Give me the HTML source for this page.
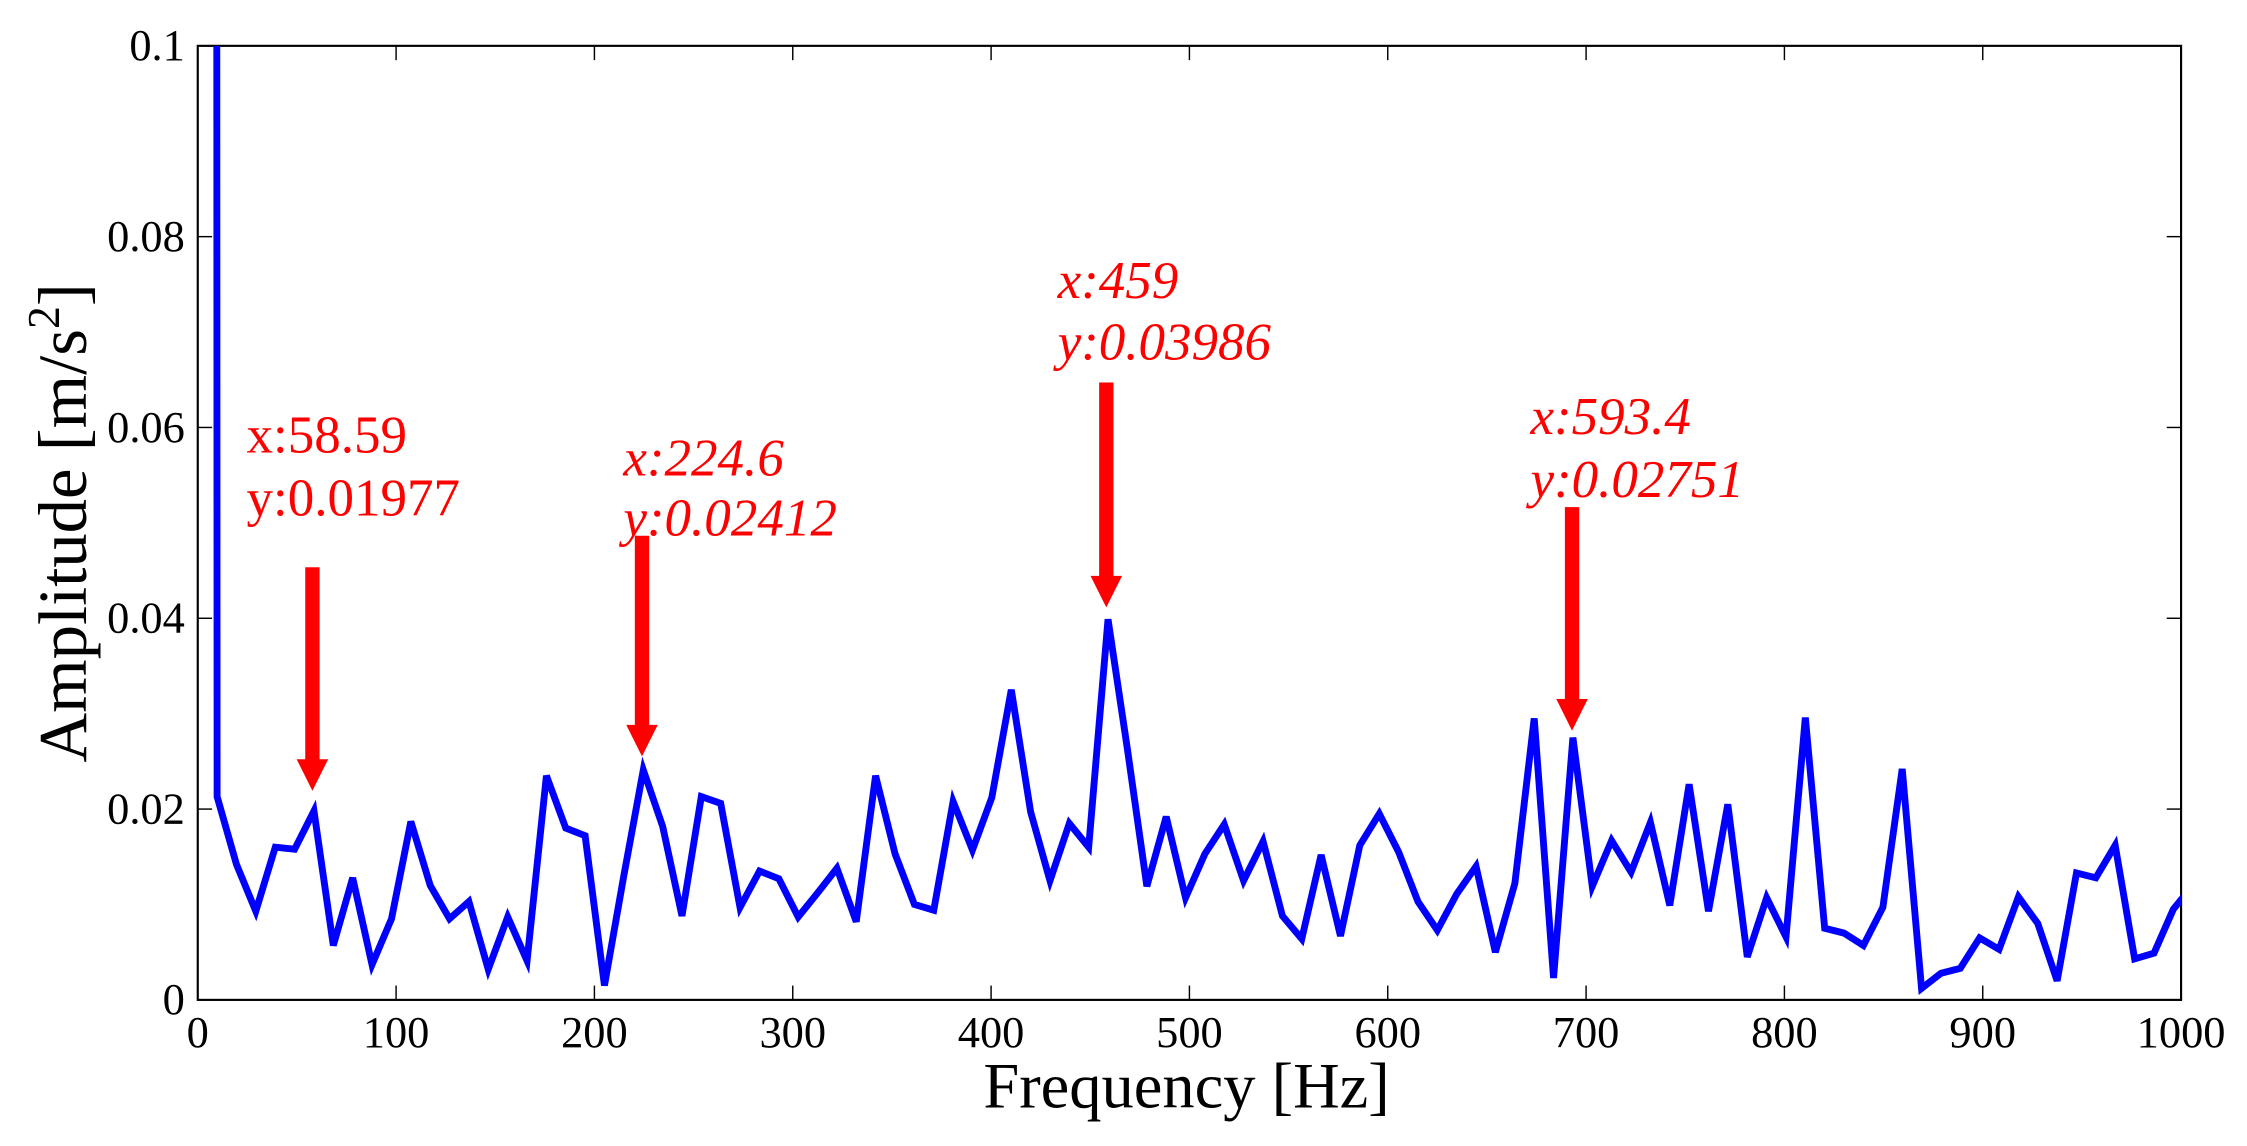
<!DOCTYPE html>
<html><head><meta charset="utf-8"><style>html,body{margin:0;padding:0;background:#fff}svg{display:block}</style></head>
<body>
<svg id="s" width="2247" height="1146" viewBox="0 0 1568 800" preserveAspectRatio="none" xmlns="http://www.w3.org/2000/svg" font-family="Liberation Serif, serif">
<defs><clipPath id="c"><rect x="138" y="32" width="1384" height="666"/></clipPath></defs>
<rect x="138" y="32" width="1384" height="666" fill="none" stroke="#000" stroke-width="1.5"/>
<g id="ticks" stroke="#000" stroke-width="1"></g>
<g id="labels" font-size="31" fill="#000"></g>
<polyline id="line" clip-path="url(#c)" fill="none" stroke="#0000ff" stroke-width="4.8" stroke-linejoin="miter"/>
<text x="828" y="773" font-size="45" text-anchor="middle">Frequency [Hz]</text>
<text transform="translate(60,365) rotate(-90)" font-size="48" text-anchor="middle">Amplitude [m/s<tspan font-size="32" dy="-19">2</tspan><tspan dy="19">]</tspan></text>
<g fill="#ff0000" font-size="37">
<text x="172" y="316">x:58.59</text><text x="172" y="360">y:0.01977</text>
<g font-style="italic">
<text x="435" y="332">x:224.6</text><text x="435" y="374">y:0.02412</text>
<text x="738" y="208">x:459</text><text x="738" y="251">y:0.03986</text>
<text x="1068" y="303">x:593.4</text><text x="1068" y="347">y:0.02751</text>
</g>
<g id="arrows"></g>
</g>
</svg>
<script>
var v=[5,0.0213,0.0142,0.0093,0.0160,0.0158,0.0198,0.0057,0.0128,0.0037,0.0085,0.0187,0.0120,0.0085,0.0103,0.0032,0.0087,0.0041,0.0235,0.0180,0.0172,0.0015,0.0130,0.0241,0.0182,0.0088,0.0213,0.0206,0.0097,0.0135,0.0127,0.0087,0.0112,0.0138,0.0082,0.0235,0.0153,0.0100,0.0094,0.0208,0.0157,0.0212,0.0325,0.0197,0.0125,0.0185,0.0160,0.0399,0.0262,0.0119,0.0192,0.0107,0.0153,0.0184,0.0125,0.0166,0.0088,0.0064,0.0152,0.0067,0.0162,0.0195,0.0155,0.0103,0.0073,0.0111,0.0140,0.0050,0.0122,0.0295,0.0023,0.0275,0.0119,0.0167,0.0134,0.0186,0.0099,0.0226,0.0093,0.0205,0.0045,0.0107,0.0066,0.0296,0.0075,0.0070,0.0057,0.0097,0.0242,0.0012,0.0028,0.0033,0.0065,0.0053,0.0108,0.0080,0.0020,0.0133,0.0128,0.0162,0.0043,0.0049,0.0095,0.0120];
var X=function(f){return 138+f*1.384},Y=function(a){return 698-a*6660};
var p=[];for(var k=0;k<v.length;k++)p.push(X(k*9.765625).toFixed(1)+","+Y(v[k]).toFixed(1));
document.getElementById('line').setAttribute('points',p.join(' '));
var NS='http://www.w3.org/2000/svg';
function el(parent,tag,attrs,txt){var e=document.createElementNS(NS,tag);for(var a in attrs)e.setAttribute(a,attrs[a]);if(txt!==undefined)e.textContent=txt;parent.appendChild(e);return e;}
var T=document.getElementById('ticks'),L=document.getElementById('labels');
for(var i=0;i<=10;i++){var x=X(i*100);el(T,'line',{x1:x,y1:698,x2:x,y2:688});el(T,'line',{x1:x,y1:32,x2:x,y2:42});el(L,'text',{x:x,y:731,'text-anchor':'middle'},String(i*100));}
var ys=['0','0.02','0.04','0.06','0.08','0.1'];
for(var j=0;j<6;j++){var y=Y(j*0.02);el(T,'line',{x1:138,y1:y,x2:148,y2:y});el(T,'line',{x1:1522,y1:y,x2:1512,y2:y});el(L,'text',{x:129,y:y+10,'text-anchor':'end'},ys[j]);}
var G=document.getElementById('arrows');
[[218,396,552],[448,374,528],[772,267,424],[1097,354,510]].forEach(function(q){var x=q[0],y1=q[1],y2=q[2];el(G,'rect',{x:x-5,y:y1,width:10,height:y2-y1-18});el(G,'polygon',{points:(x-11)+','+(y2-22)+' '+(x+11)+','+(y2-22)+' '+x+','+y2});});
</script>
</body></html>
